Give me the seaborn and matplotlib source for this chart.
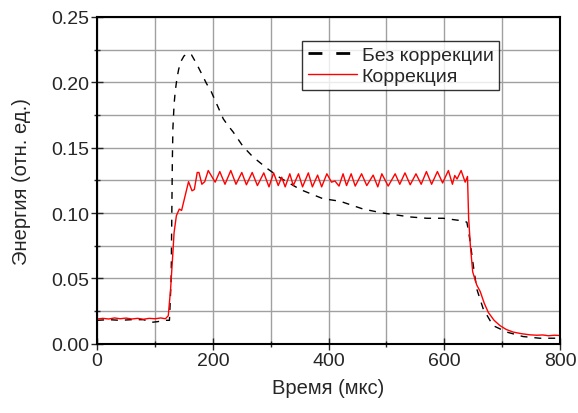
import matplotlib
matplotlib.use("Agg")
import matplotlib.pyplot as plt
from matplotlib.ticker import MultipleLocator, FormatStrFormatter
import seaborn as sns

# Без коррекции (black dashed)
t_ref = [0, 20, 40, 60, 80, 95, 105, 115, 125, 128,
         130, 131, 133, 135, 138, 141, 145, 150, 156, 163,
         172, 180, 189, 197, 204, 211, 218, 226, 235, 252,
         269, 294, 316, 351, 390, 420, 460, 494, 541, 570,
         598, 615, 632, 639, 644, 650, 656, 667, 684, 708,
         736, 765, 800]
v_ref = [0.018, 0.0185, 0.018, 0.0185, 0.0185, 0.0165, 0.017, 0.018, 0.018, 0.05,
         0.14, 0.165, 0.183, 0.193, 0.203, 0.210, 0.216, 0.220, 0.222, 0.221,
         0.214, 0.207, 0.199, 0.193, 0.186, 0.179, 0.172, 0.167, 0.162, 0.151,
         0.143, 0.134, 0.127, 0.118, 0.111, 0.109, 0.103, 0.100, 0.097, 0.096,
         0.096, 0.095, 0.094, 0.093, 0.080, 0.060, 0.042, 0.027, 0.014, 0.009,
         0.0056, 0.0043, 0.0043]

# Коррекция (red)
t_corr = [0, 10, 20, 30, 40, 50, 60, 70, 80, 90,
          100, 110, 118, 123, 127, 131, 133, 137, 142, 146,
          152, 158, 164, 168, 173, 176, 181, 186, 192, 204,
          212, 221, 231, 240, 250, 258, 268, 277, 288, 297,
          305, 313, 319, 325, 333, 339, 348, 355, 365, 372,
          381, 388, 397, 405, 411, 418, 425, 431, 439, 446,
          457, 466, 477, 485, 492, 503, 515, 523, 532, 541,
          551, 560, 569, 578, 588, 597, 607, 614, 618, 622,
          629, 636, 640, 642, 645, 649, 656, 662, 669, 676,
          686, 696, 707, 719, 733, 748, 760, 770, 780, 790, 800]
v_corr = [0.019, 0.0195, 0.019, 0.0198, 0.0192, 0.0197, 0.019, 0.0195, 0.0188, 0.0195,
          0.0192, 0.0198, 0.0192, 0.0215, 0.042, 0.070, 0.085, 0.098, 0.103, 0.102,
          0.113, 0.124, 0.117, 0.118, 0.131, 0.131, 0.122, 0.124, 0.1325, 0.1236,
          0.1317, 0.122, 0.1325, 0.122, 0.131, 0.1216, 0.131, 0.121, 0.1307, 0.120,
          0.1307, 0.121, 0.1274, 0.120, 0.130, 0.121, 0.130, 0.120, 0.1307, 0.120,
          0.129, 0.120, 0.130, 0.1236, 0.1245, 0.1206, 0.130, 0.121, 0.130, 0.1206,
          0.130, 0.121, 0.129, 0.120, 0.130, 0.1206, 0.130, 0.122, 0.1307, 0.1216,
          0.130, 0.122, 0.1317, 0.122, 0.1317, 0.123, 0.1325, 0.122, 0.1287, 0.126,
          0.1325, 0.1236, 0.128, 0.096, 0.075, 0.055, 0.045, 0.040, 0.031, 0.024,
          0.018, 0.014, 0.011, 0.009, 0.0078, 0.0069, 0.0066, 0.0068, 0.0062, 0.0066, 0.0064]

sns.set_style("white")
plt.rcParams['font.family'] = ['Liberation Sans', 'DejaVu Sans']

fig = plt.figure(figsize=(5.78, 4.14), dpi=100)
ax = fig.add_axes([0.168, 0.167, 0.801, 0.790])

sns.lineplot(x=t_ref, y=v_ref, ax=ax, color='black', linewidth=1.0,
             linestyle=(0, (5, 5)), estimator=None, sort=False, label='Без коррекции')
sns.lineplot(x=t_corr, y=v_corr, ax=ax, color='red', linewidth=1.0,
             estimator=None, sort=False, label='Коррекция')

ax.set_xlim(0, 800)
ax.set_ylim(0, 0.25)
ax.xaxis.set_major_locator(MultipleLocator(200))
ax.xaxis.set_minor_locator(MultipleLocator(100))
ax.yaxis.set_major_locator(MultipleLocator(0.05))
ax.yaxis.set_minor_locator(MultipleLocator(0.025))
ax.yaxis.set_major_formatter(FormatStrFormatter('%.2f'))

ax.grid(True, which='both', color='#a0a0a0', linewidth=1.0)
ax.set_axisbelow(True)
for s in ax.spines.values():
    s.set_color('black')
    s.set_linewidth(1.5)

ax.tick_params(axis='both', which='major', direction='inout', length=8, width=1,
               labelsize=14, bottom=True, left=True, pad=2)
ax.tick_params(axis='both', which='minor', direction='inout', length=5, width=1,
               bottom=True, left=True)

ax.set_xlabel('Время (мкс)', fontsize=14.5, labelpad=6)
ax.set_ylabel('Энергия (отн. ед.)', fontsize=14.5, labelpad=14)

leg = ax.legend(loc='upper left', bbox_to_anchor=(0.443, 0.927), fontsize=14,
                frameon=True, fancybox=False, borderpad=0.3, handlelength=2.5,
                handletextpad=0.25, labelspacing=0.15, borderaxespad=0)
leg.get_frame().set_edgecolor('black')
leg.get_frame().set_linewidth(1.0)
leg.get_lines()[0].set_linewidth(2.0)

fig.savefig('out.png', dpi=100)
